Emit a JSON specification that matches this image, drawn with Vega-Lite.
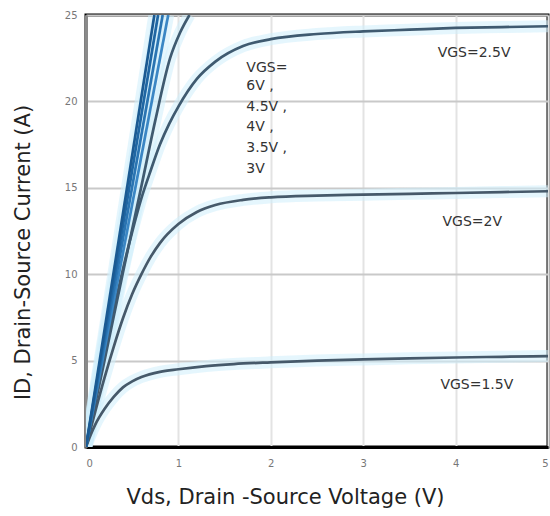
{
  "$schema": "https://vega.github.io/schema/vega-lite/v6.json",
  "width": 462,
  "height": 432,
  "autosize": {"type": "none"},
  "padding": {"left": 86, "top": 15, "right": 2, "bottom": 69},
  "background": "white",
  "config": {
    "view": {"stroke": "#000000", "strokeWidth": 3},
    "font": "DejaVu Sans"
  },
  "datasets": {
    "curves": [
      {"s": "1.5V", "v": 0, "i": 0}, {"s": "1.5V", "v": 0.05, "i": 0.7}, {"s": "1.5V", "v": 0.1, "i": 1.3}, {"s": "1.5V", "v": 0.2, "i": 2.2}, {"s": "1.5V", "v": 0.3, "i": 2.9}, {"s": "1.5V", "v": 0.4, "i": 3.45}, {"s": "1.5V", "v": 0.5, "i": 3.8}, {"s": "1.5V", "v": 0.6, "i": 4.05}, {"s": "1.5V", "v": 0.8, "i": 4.35}, {"s": "1.5V", "v": 1.0, "i": 4.5}, {"s": "1.5V", "v": 1.3, "i": 4.68}, {"s": "1.5V", "v": 1.6, "i": 4.8}, {"s": "1.5V", "v": 2.0, "i": 4.9}, {"s": "1.5V", "v": 2.5, "i": 5.0}, {"s": "1.5V", "v": 3.0, "i": 5.07}, {"s": "1.5V", "v": 3.5, "i": 5.13}, {"s": "1.5V", "v": 4.0, "i": 5.18}, {"s": "1.5V", "v": 4.5, "i": 5.22}, {"s": "1.5V", "v": 5.0, "i": 5.26},
      {"s": "2V", "v": 0, "i": 0}, {"s": "2V", "v": 0.05, "i": 1.03}, {"s": "2V", "v": 0.1, "i": 2.05}, {"s": "2V", "v": 0.2, "i": 4.0}, {"s": "2V", "v": 0.3, "i": 5.8}, {"s": "2V", "v": 0.4, "i": 7.45}, {"s": "2V", "v": 0.5, "i": 8.85}, {"s": "2V", "v": 0.6, "i": 10.0}, {"s": "2V", "v": 0.7, "i": 11.0}, {"s": "2V", "v": 0.8, "i": 11.8}, {"s": "2V", "v": 1.0, "i": 12.9}, {"s": "2V", "v": 1.2, "i": 13.6}, {"s": "2V", "v": 1.4, "i": 14.0}, {"s": "2V", "v": 1.7, "i": 14.3}, {"s": "2V", "v": 2.0, "i": 14.45}, {"s": "2V", "v": 2.5, "i": 14.55}, {"s": "2V", "v": 3.0, "i": 14.6}, {"s": "2V", "v": 3.5, "i": 14.65}, {"s": "2V", "v": 4.0, "i": 14.7}, {"s": "2V", "v": 4.5, "i": 14.75}, {"s": "2V", "v": 5.0, "i": 14.8},
      {"s": "2.5V", "v": 0, "i": 0}, {"s": "2.5V", "v": 0.05, "i": 1.38}, {"s": "2.5V", "v": 0.1, "i": 2.74}, {"s": "2.5V", "v": 0.2, "i": 5.4}, {"s": "2.5V", "v": 0.3, "i": 7.95}, {"s": "2.5V", "v": 0.4, "i": 10.3}, {"s": "2.5V", "v": 0.5, "i": 12.45}, {"s": "2.5V", "v": 0.6, "i": 14.4}, {"s": "2.5V", "v": 0.7, "i": 16.0}, {"s": "2.5V", "v": 0.8, "i": 17.5}, {"s": "2.5V", "v": 0.9, "i": 18.7}, {"s": "2.5V", "v": 1.0, "i": 19.7}, {"s": "2.5V", "v": 1.2, "i": 21.3}, {"s": "2.5V", "v": 1.4, "i": 22.3}, {"s": "2.5V", "v": 1.7, "i": 23.2}, {"s": "2.5V", "v": 2.0, "i": 23.6}, {"s": "2.5V", "v": 2.5, "i": 23.9}, {"s": "2.5V", "v": 3.0, "i": 24.05}, {"s": "2.5V", "v": 3.5, "i": 24.15}, {"s": "2.5V", "v": 4.0, "i": 24.25}, {"s": "2.5V", "v": 4.5, "i": 24.3}, {"s": "2.5V", "v": 5.0, "i": 24.35},
      {"s": "3V", "v": 0, "i": 0}, {"s": "3V", "v": 0.2, "i": 5.0}, {"s": "3V", "v": 0.4, "i": 10.1}, {"s": "3V", "v": 0.6, "i": 15.1}, {"s": "3V", "v": 0.75, "i": 18.9}, {"s": "3V", "v": 0.91, "i": 22.5}, {"s": "3V", "v": 1.02, "i": 24.0}, {"s": "3V", "v": 1.12, "i": 25.0},
      {"s": "3.5V", "v": 0, "i": 0}, {"s": "3.5V", "v": 0.89, "i": 25.0},
      {"s": "4V", "v": 0, "i": 0}, {"s": "4V", "v": 0.83, "i": 25.0},
      {"s": "4.5V", "v": 0, "i": 0}, {"s": "4.5V", "v": 0.78, "i": 25.0},
      {"s": "6V", "v": 0, "i": 0}, {"s": "6V", "v": 0.74, "i": 25.0}
    ],
    "labelsC": [
      {"v": 4.2, "i": 22.8, "t": "VGS=2.5V"},
      {"v": 4.18, "i": 13.0, "t": "VGS=2V"},
      {"v": 4.23, "i": 3.6, "t": "VGS=1.5V"}
    ],
    "labelsL": [
      {"v": 1.735, "i": 21.93, "t": "VGS="},
      {"v": 1.735, "i": 20.89, "t": "6V ,"},
      {"v": 1.735, "i": 19.68, "t": "4.5V ,"},
      {"v": 1.735, "i": 18.52, "t": "4V ,"},
      {"v": 1.735, "i": 17.3, "t": "3.5V ,"},
      {"v": 1.735, "i": 16.09, "t": "3V"}
    ]
  },
  "layer": [
    {
      "data": {"name": "curves"},
      "mark": {"type": "line", "strokeWidth": 12, "color": "#cfeefb", "opacity": 0.55, "clip": true, "interpolate": "monotone"},
      "encoding": {
        "x": {
          "field": "v", "type": "quantitative",
          "scale": {"domain": [0, 5], "nice": false},
          "axis": {
            "values": [0, 1, 2, 3, 4, 5],
            "format": "d",
            "title": "Vds, Drain -Source Voltage (V)",
            "titleFont": "DejaVu Sans", "titleFontSize": 21, "titleFontWeight": "normal", "titleColor": "#222222",
            "titleX": 199, "titleY": 50, "titleBaseline": "middle", "titleAnchor": "middle", "titleAlign": "center",
            "labelFont": "DejaVu Sans", "labelFontSize": 10, "labelColor": "#777777", "labelPadding": 11,
            "ticks": false,
            "domainColor": "#000000", "domainWidth": 3,
            "grid": true, "gridColor": "#e3e3e3", "gridWidth": 2
          }
        },
        "y": {
          "field": "i", "type": "quantitative",
          "scale": {"domain": [0, 25], "nice": false},
          "axis": {
            "values": [0, 5, 10, 15, 20, 25],
            "format": "d",
            "title": "ID, Drain-Source Current (A)",
            "titleFont": "DejaVu Sans", "titleFontSize": 21, "titleFontWeight": "normal", "titleColor": "#222222",
            "titleX": -63, "titleY": 237, "titleBaseline": "middle", "titleAnchor": "middle", "titleAlign": "center", "titleAngle": -90,
            "labelFont": "DejaVu Sans", "labelFontSize": 10, "labelColor": "#777777", "labelPadding": 9,
            "ticks": false,
            "domainColor": "#8a8a8a", "domainWidth": 3,
            "grid": true, "gridColor": "#c9c9c9", "gridWidth": 2
          }
        },
        "detail": {"field": "s"}
      }
    },
    {
      "data": {"name": "curves"},
      "mark": {"type": "line", "strokeWidth": 2.7, "clip": true, "interpolate": "monotone"},
      "encoding": {
        "x": {"field": "v", "type": "quantitative"},
        "y": {"field": "i", "type": "quantitative"},
        "color": {
          "field": "s", "type": "nominal", "legend": null,
          "scale": {
            "domain": ["1.5V", "2V", "2.5V", "3V", "3.5V", "4V", "4.5V", "6V"],
            "range": ["#46596a", "#46596a", "#3f5a70", "#3f5a70", "#3a86c4", "#2a74b2", "#1f66a3", "#1b5a92"]
          }
        },
        "detail": {"field": "s"}
      }
    },
    {
      "data": {"name": "labelsC"},
      "mark": {"type": "text", "fontSize": 14, "color": "#333333", "baseline": "middle", "align": "center", "font": "DejaVu Sans"},
      "encoding": {
        "x": {"field": "v", "type": "quantitative"},
        "y": {"field": "i", "type": "quantitative"},
        "text": {"field": "t"}
      }
    },
    {
      "data": {"name": "labelsL"},
      "mark": {"type": "text", "fontSize": 14, "color": "#333333", "baseline": "middle", "align": "left", "font": "DejaVu Sans"},
      "encoding": {
        "x": {"field": "v", "type": "quantitative"},
        "y": {"field": "i", "type": "quantitative"},
        "text": {"field": "t"}
      }
    }
  ]
}
